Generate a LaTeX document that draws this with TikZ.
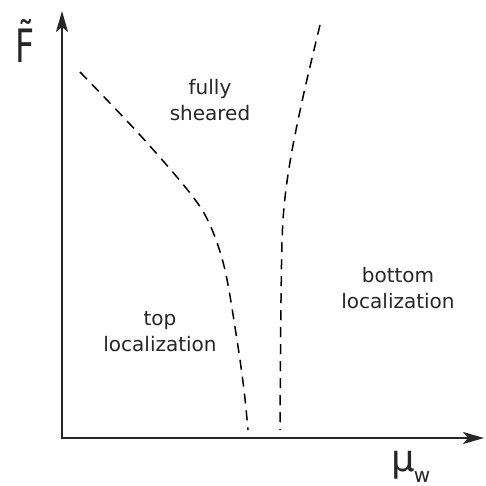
\documentclass[tikz,border=0pt]{standalone}
\usepackage{fontspec}
\setmainfont{DejaVu Sans}
\usetikzlibrary{arrows.meta}

\begin{document}
\begin{tikzpicture}[
  x=1pt, y=-1pt,
  >={Stealth[length=21pt, width=12pt, inset=5pt]},
  axis/.style={<->, line width=2.4pt, draw=black!85},
  border/.style={line width=1.5pt, dash pattern=on 10pt off 7pt},
  region/.style={font=\fontsize{20}{26}\selectfont, align=center, text=black!85, inner sep=0pt},
  axlabel/.style={inner sep=0pt, text=black!85}
]

\useasboundingbox (0,0) rectangle (486,486);

% ==================== Axes ====================
\coordinate (O)    at (62,438);
\coordinate (ytip) at (62,11);
\coordinate (xtip) at (484,438);
\draw[axis] (ytip) -- (O) -- (xtip);

\node[axlabel] (Flabel) at (25,41)
  {\scalebox{0.72}[1]{\fontsize{46}{48}\selectfont \~F}};
\node[axlabel] (mulabel) at (403,465) {\fontsize{37}{40}\selectfont μ};
\node[axlabel] (wlabel) at (422,477) {\fontsize{20}{22}\selectfont w};

% ==================== Phase boundaries ====================
\draw[border] plot[smooth, tension=0.55] coordinates
  {(80,72) (140,135) (190,193) (210,225) (225,270) (237,340) (244,390) (248,430)};
\draw[border] plot[smooth, tension=0.55] coordinates
  {(320,25) (303,97) (290,162) (283,220) (281,300) (280,430)};

% ==================== Regions ====================
\node[region] (sheared) at (210,100) {fully\\sheared};
\node[region] (toploc)  at (160,332) {top\\localization};
\node[region] (botloc)  at (398,288) {bottom\\localization};

\end{tikzpicture}
\end{document}
